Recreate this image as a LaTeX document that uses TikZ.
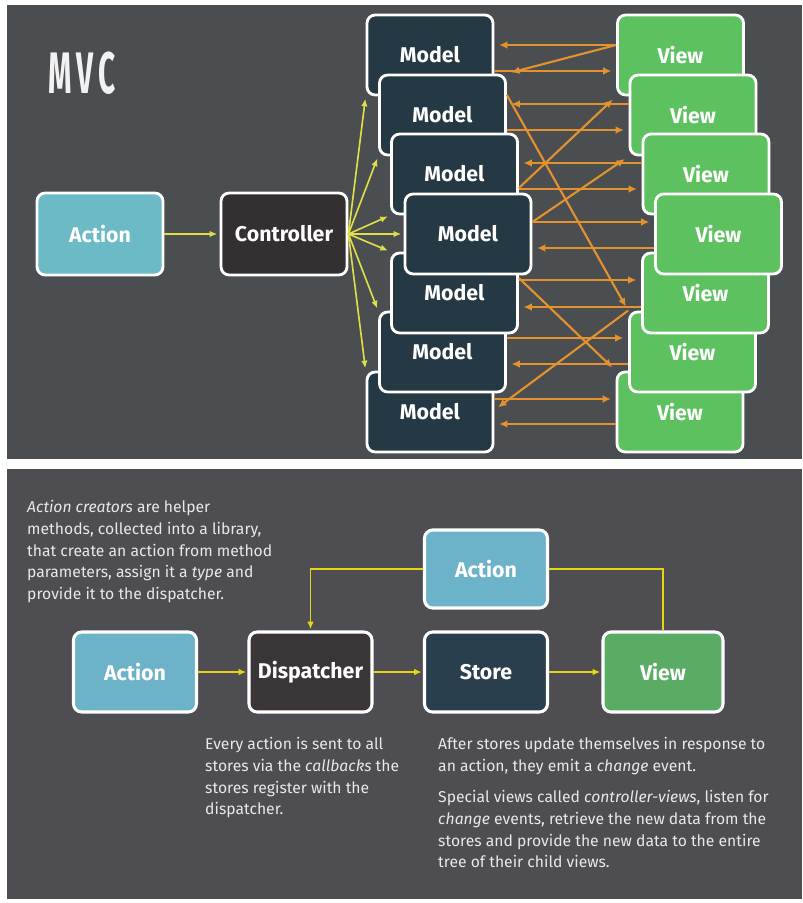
\documentclass[tikz,border=0pt]{standalone}
\usepackage{fontspec}
\setmainfont{Fira Sans}
\usetikzlibrary{arrows.meta,calc}
\definecolor{panelA}{HTML}{4B4E51}
\definecolor{panelB}{HTML}{4E4D52}
\definecolor{actA}{HTML}{6BBAC6}
\definecolor{ctrlc}{HTML}{342F30}
\definecolor{modelc}{HTML}{243943}
\definecolor{viewc}{HTML}{5CC15E}
\definecolor{actB}{HTML}{6CB2C8}
\definecolor{dispc}{HTML}{3A3536}
\definecolor{storec}{HTML}{2A3F4E}
\definecolor{viewB}{HTML}{5AAB63}
\definecolor{orangec}{HTML}{E3922D}
\definecolor{yellowA}{HTML}{DEDE48}
\definecolor{yellowB}{HTML}{E6D512}
\definecolor{textc}{HTML}{E8E8E8}
\begin{document}
\begin{tikzpicture}[x=0.03cm,y=-0.03cm,
  box/.style={draw=white, line width=2.4pt, rounded corners=7pt, minimum width=3.78cm,
    minimum height=2.4cm, inner sep=0pt, text=white, font=\fontsize{18.2}{20}\selectfont\bfseries},
  model/.style={box, fill=modelc},
  viewbox/.style={box, fill=viewc},
  bbox/.style={box, minimum width=3.69cm, line width=2.6pt},
  oarr/.style={draw=orangec, line width=1.8pt, -{Latex[length=7pt,width=6.5pt]}, shorten >=4pt},
  yarr/.style={draw=yellowA, line width=1.4pt, -{Latex[length=6.5pt,width=5.5pt]}, shorten >=2pt},
  barr/.style={draw=yellowB, line width=1.5pt, -{Latex[length=6.5pt,width=5.5pt]}, shorten >=1pt},
  bline/.style={draw=yellowB, line width=1.5pt},
  txt/.style={align=left, inner sep=0pt, text=textc, font=\fontsize{13.4}{18.6}\selectfont}]
\useasboundingbox (0,0) rectangle (802,903);
\fill[white] (0,0) rectangle (802,903);
\fill[panelA] (7,5) rectangle (802,459);
\fill[panelB] (7,469) rectangle (802,899);

% ---------- MVC ----------
\node[text=white!95!black, inner sep=0pt] (title) at (82,73)
  {\scalebox{0.52}[1.02]{\fontsize{49}{49}\selectfont\bfseries M\,V\,C}};

\node[box, fill=actA, minimum height=2.46cm] (act) at (100,234) {Action};
\node[box, fill=ctrlc, minimum height=2.46cm] (ctrl) at (284,234) {Controller};

% models (stack order)
\node[model] (m1) at (430,55) {Model};
\node[model] (m2) at (442.5,115) {Model};
\node[model] (m3) at (454.5,174) {Model};
\node[model] (m7) at (430,412) {Model};
\node[model] (m6) at (442.5,352) {Model};
\node[model] (m5) at (454.5,293) {Model};
\node[model] (m4) at (468,234) {Model};
% views
\node[viewbox] (v1) at (680.5,55) {View};
\node[viewbox] (v2) at (693,115) {View};
\node[viewbox] (v3) at (706,174) {View};
\node[viewbox] (v7) at (680,412) {View};
\node[viewbox] (v6) at (692.5,352) {View};
\node[viewbox] (v5) at (705.5,293) {View};
\node[viewbox] (v4) at (718.5,234) {View};

% yellow arrows
\draw[yarr] (act.east) -- (ctrl.west);
\draw[yarr] (ctrl.east) -- (m1.south west);
\draw[yarr] (ctrl.east) -- (m2.south west);
\draw[yarr] (ctrl.east) -- (m3.south west);
\draw[yarr] (ctrl.east) -- (m4.west);
\draw[yarr] (ctrl.east) -- (m5.north west);
\draw[yarr] (ctrl.east) -- (m6.north west);
\draw[yarr] (ctrl.east) -- (m7.north west);

% orange horizontal arrows
\draw[oarr] (v1.west |- 0,45) -- (m1.east |- 0,45);
\draw[oarr] (m1.east |- 0,71) -- (v1.west |- 0,71);
\draw[oarr] (v2.west |- 0,104) -- (m2.east |- 0,104);
\draw[oarr] (m2.east |- 0,130) -- (v2.west |- 0,130);
\draw[oarr] (v3.west |- 0,163) -- (m3.east |- 0,163);
\draw[oarr] (m3.east |- 0,189) -- (v3.west |- 0,189);
\draw[oarr] (m4.east |- 0,222) -- (v4.west |- 0,222);
\draw[oarr] (v4.west |- 0,248) -- (m4.east |- 0,248);
\draw[oarr] (m5.east |- 0,280) -- (v5.west |- 0,280);
\draw[oarr] (v5.west |- 0,307) -- (m5.east |- 0,307);
\draw[oarr] (m6.east |- 0,338) -- (v6.west |- 0,338);
\draw[oarr] (v6.west |- 0,364) -- (m6.east |- 0,364);
\draw[oarr] (m7.east |- 0,399) -- (v7.west |- 0,399);
\draw[oarr] (v7.west |- 0,424) -- (m7.east |- 0,424);
% orange diagonals
\draw[oarr] (v1.west |- 0,45) -- (m2.north east);
\draw[oarr] (m2.east |- 0,95) -- (v6.north west);
\draw[oarr] (m3.east |- 0,188) -- (v1.south west);
\draw[oarr] (m4.east |- 0,222) -- (v2.south west);
\draw[oarr] (m5.east |- 0,278) -- (v7.north west);
\draw[oarr] (v6.north west) -- (m7.east |- 0,410);

% ---------- Flux ----------
\node[bbox, fill=actB] (fa) at (135,672) {Action};
\node[bbox, fill=dispc] (fd) at (310.5,672) {Dispatcher};
\node[bbox, fill=storec] (fs) at (486,672) {Store};
\node[bbox, fill=viewB, minimum width=3.6cm] (fv) at (663,672) {View};
\node[bbox, fill=actB, minimum height=2.34cm] (fa2) at (486,569) {Action};

\draw[barr] (fa.east) -- (fd.west);
\draw[barr] (fd.east) -- (fs.west);
\draw[barr] (fs.east) -- (fv.west);
\draw[bline] (fv.north) |- (fa2.east);
\draw[barr] (fa2.west) -| (fd.north);

\node[txt, anchor=north west] (t1) at (27,500)
  {\textit{Action creators} are helper\\
   methods, collected into a library,\\
   that create an action from method\\
   parameters, assign it a \textit{type} and\\
   provide it to the dispatcher.};
\node[txt, anchor=north west] (t2) at (205,737)
  {Every action is sent to all\\
   stores via the \textit{callbacks} the\\
   stores register with the\\
   dispatcher.};
\node[txt, anchor=north west] (t3) at (438,737)
  {After stores update themselves in response to\\
   an action, they emit a \textit{change} event.};
\node[txt, anchor=north west] (t4) at (438,790)
  {Special views called \textit{controller-views}, listen for\\
   \textit{change} events, retrieve the new data from the\\
   stores and provide the new data to the entire\\
   tree of their child views.};
\end{tikzpicture}
\end{document}
